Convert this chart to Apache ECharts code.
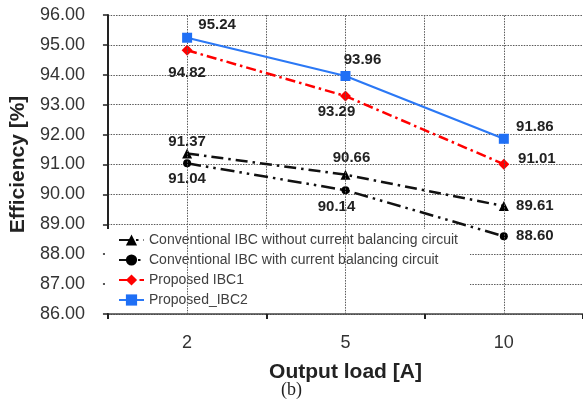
<!DOCTYPE html>
<html><head><meta charset="utf-8">
<script src="https://cdn.jsdelivr.net/npm/echarts@6/dist/echarts.min.js"></script>
<style>html,body{margin:0;padding:0;background:#fff}#c{width:583px;height:411px}</style>
</head><body><div id="c"></div>
<script>
const categories = ['2', '5', '10'];
const convWithout = [91.37, 90.66, 89.61];
const convWith = [91.04, 90.14, 88.60];
const proposed1 = [94.82, 93.29, 91.01];
const proposed2 = [95.24, 93.96, 91.86];
const yTicks = { min: 86, max: 96, interval: 1 };

// label offsets (styling only) relative to each point
const offWithout = [[0,-12],[6,-17],[31,0]];
const offWith = [[0,16],[-9,17],[31,0]];
const off1 = [[0,23],[-9,16],[33,-5]];
const off2 = [[30,-13],[17,-16],[31,-12]];

const labelStyle = { fontFamily: 'Liberation Sans', fontWeight: 'bold', fontSize: 15, color: '#222' };
function mk(vals, offs) {
  return vals.map((v, i) => ({ value: v, label: Object.assign({ show: true, position: 'inside', offset: offs[i], formatter: p => p.value.toFixed(2) }, labelStyle) }));
}
const gridLine = { color: '#5a5a5a', width: 1, type: [1.5, 1.2] };

const chart = echarts.init(document.getElementById('c'), null, { renderer: 'canvas' });
chart.setOption({
  animation: false,
  backgroundColor: '#fff',
  grid: { left: 105, top: 15, right: -4, bottom: 97 },
  xAxis: {
    type: 'category', data: categories, boundaryGap: true,
    axisLine: { lineStyle: { color: '#444', width: 1.5 } },
    axisTick: { show: true, length: 5, lineStyle: { color: '#222', width: 2 } },
    axisLabel: { margin: 20, fontSize: 18, color: '#333', fontFamily: 'Liberation Sans' },
    splitLine: { show: true, lineStyle: gridLine },
    name: 'Output load [A]', nameLocation: 'middle', nameGap: 48,
    nameTextStyle: { fontSize: 21, fontWeight: 'bold', color: '#222', fontFamily: 'Liberation Sans' }
  },
  yAxis: {
    type: 'value', min: yTicks.min, max: yTicks.max, interval: yTicks.interval,
    axisLine: { show: true, lineStyle: { color: '#222', width: 2 } },
    axisTick: { show: true, length: 5, lineStyle: { color: '#222', width: 1.5 } },
    axisLabel: { margin: 23, fontSize: 18, color: '#333', fontFamily: 'Liberation Sans', formatter: v => v.toFixed(2) },
    splitLine: { show: true, lineStyle: gridLine },
    name: 'Efficiency [%]', nameLocation: 'middle', nameGap: 60, nameRotate: 90,
    nameTextStyle: { fontSize: 21, fontWeight: 'bold', color: '#222', fontFamily: 'Liberation Sans' }
  },
  legend: {
    orient: 'vertical', left: 105, top: 229,
    padding: [4, 12, 6, 13], itemGap: 6, itemWidth: 25, itemHeight: 14,
    backgroundColor: '#fff',
    textStyle: { fontSize: 14, color: '#404040', fontFamily: 'Liberation Sans' },
    data: ['Conventional IBC without current balancing circuit', 'Conventional IBC with current balancing circuit', 'Proposed IBC1', 'Proposed_IBC2']
  },
  series: [
    {
      name: 'Conventional IBC without current balancing circuit', type: 'line',
      data: mk(convWithout, offWithout), symbol: 'triangle', symbolSize: 10,
      itemStyle: { color: '#000' }, lineStyle: { color: '#111', width: 2.5, type: [12, 5, 2.5, 5] },
      markLine: {
        silent: true, symbol: ['none', 'none'], label: { show: false },
        lineStyle: gridLine, animation: false,
        data: categories.map(c => ({ xAxis: c }))
      }, z: 3
    },
    {
      name: 'Conventional IBC with current balancing circuit', type: 'line',
      data: mk(convWith, offWith), symbol: 'circle', symbolSize: 8,
      itemStyle: { color: '#000' }, lineStyle: { color: '#111', width: 2.5, type: [14, 5, 2.5, 5, 2.5, 5] }, z: 3
    },
    {
      name: 'Proposed IBC1', type: 'line',
      data: mk(proposed1, off1), symbol: 'diamond', symbolSize: 11,
      itemStyle: { color: '#ff0000' }, lineStyle: { color: '#ff0000', width: 2.5, type: [10, 4, 2.5, 4] }, z: 4
    },
    {
      name: 'Proposed_IBC2', type: 'line',
      data: mk(proposed2, off2), symbol: 'rect', symbolSize: 10,
      itemStyle: { color: '#1f6ff5' }, lineStyle: { color: '#2b78f5', width: 2.2, type: 'solid' }, z: 5
    }
  ],
  graphic: [{
    type: 'text', left: 'center', top: 381,
    style: { text: '(b)', font: '18px "Liberation Serif"', fill: '#222', x: 0 }
  }]
});
</script></body></html>
